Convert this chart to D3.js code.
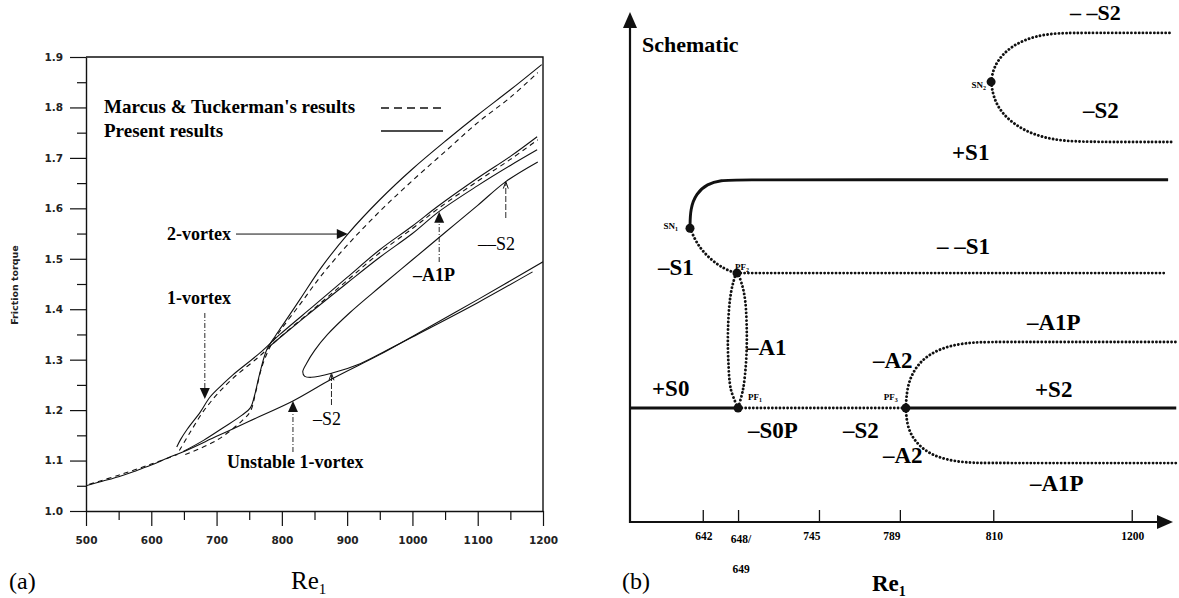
<!DOCTYPE html>
<html>
<head>
<meta charset="utf-8">
<script src="https://cdn.jsdelivr.net/npm/d3@7"></script>
<style>
  html, body { margin: 0; padding: 0; background: #fff; }
  svg { display: block; }
</style>
</head>
<body>
<svg id="fig" width="1179" height="598"></svg>
<script>
// ---------------- Panel (a): friction torque against Re1 ----------------
const reTicks = [500, 600, 700, 800, 900, 1000, 1100, 1200];
const reMinorTicks = [550, 650, 750, 850, 950, 1050, 1150];
const torqueTicks = [1.0, 1.1, 1.2, 1.3, 1.4, 1.5, 1.6, 1.7, 1.8, 1.9];
const torqueMinorTicks = [1.05, 1.15, 1.25, 1.35, 1.45, 1.55, 1.65, 1.75, 1.85];

// present results (solid), [Re1, torque]
const baseBranch = [[500,1.05],[525,1.059],[550,1.068],[575,1.079],[600,1.091],[625,1.105],[650,1.118],
  [700,1.148],[750,1.178],[817,1.218],[877,1.262],[950,1.31],[1000,1.346],[1100,1.419],[1200,1.494]];
const twoVortex = [[649,1.118],[680,1.14],[710,1.165],[739,1.19],[752,1.205],[758,1.228],[766,1.272],
  [777,1.32],[790,1.347],[800,1.366],[828,1.42],[860,1.482],[901,1.549],[950,1.617],[1000,1.678],
  [1053,1.736],[1100,1.785],[1150,1.835],[1198,1.885]];
const oneVortex = [[639,1.127],[645,1.142],[655,1.162],[675,1.196],[690,1.226],[710,1.252],[725,1.27],
  [766,1.313],[797,1.35],[850,1.408],[900,1.463],[950,1.518],[1000,1.565],[1040,1.605],[1100,1.66],
  [1150,1.703],[1191,1.742]];
const a1pBranch = [[780,1.325],[800,1.347],[850,1.4],[900,1.452],[950,1.503],[1000,1.55],[1040,1.593],
  [1100,1.645],[1150,1.685],[1191,1.716]];
const s2Loop = [[1192,1.692],[1143,1.653],[1100,1.606],[1050,1.552],[1000,1.498],[950,1.444],[904,1.393],
  [870,1.35],[850,1.318],[838,1.293],[832,1.276],[835,1.267],[845,1.265],[876,1.273],[920,1.292],
  [960,1.318],[1000,1.345],[1100,1.413],[1184,1.474]];

// Marcus & Tuckerman (dashed), [Re1, torque]
const mtBase = [[505,1.053],[550,1.071],[600,1.093],[640,1.112]];
const mtOneVortex = [[643,1.12],[660,1.157],[680,1.198],[700,1.23],[725,1.263],[766,1.307],[797,1.344],
  [850,1.402],[900,1.457],[950,1.512],[1000,1.56],[1040,1.6],[1100,1.654],[1150,1.697],[1192,1.736]];
const mtTwoVortex = [[652,1.112],[700,1.14],[740,1.18],[752,1.198],[760,1.236],[770,1.288],[785,1.333],
  [800,1.362],[828,1.41],[860,1.466],[901,1.528],[950,1.594],[1000,1.655],[1053,1.716],[1100,1.77],
  [1150,1.82],[1192,1.869]];

// annotation arrows: label, arrow tip [Re1, torque]
const notes = [
  { text: "2-vortex", tip: [901, 1.549], bold: true, dir: "right" },
  { text: "1-vortex", tip: [682, 1.222], bold: true, dir: "down" },
  { text: "Unstable 1-vortex", tip: [817, 1.218], bold: true, dir: "up" },
  { text: "\u2013S2", tip: [876, 1.273], bold: false, dir: "up" },
  { text: "\u2013A1P", tip: [1041, 1.593], bold: true, dir: "up" },
  { text: "\u2013\u2013S2", tip: [1143, 1.653], bold: false, dir: "up" }
];

// ---------------- Panel (b): schematic bifurcation diagram ----------------
// schematic units, 0-100 along each axis
const schemTickPos = [13.4, 19.9, 34.8, 49.7, 66.9, 92.4];
const schemTickLabels = [["642"], ["648/", "649"], ["745"], ["789"], ["810"], ["1200"]];

const stableS0 = [[0,22.35],[19.9,22.35]];
const unstableS0P = [[19.9,22.35],[50.8,22.35]];
const stableS2 = [[50.8,22.35],[100.6,22.35]];
const unstableA2Up = [[50.8,22.35],[51.0,26.5],[52.4,30.2],[55.0,32.9],[58.5,34.5],[62.5,35.2],[66,35.3],[80,35.3],[100.6,35.3]];
const unstableA2Down = [[50.8,22.35],[51.0,18.8],[52.4,15.8],[55.0,13.4],[58.5,12.1],[62.5,11.6],[66,11.55],[80,11.55],[100.6,11.55]];
const stableS1 = [[11.05,57.6],[11.1,61.5],[12.2,64.4],[14.2,66.3],[16.8,67.0],[19.5,67.1],[40,67.1],[99.1,67.1]];
const unstableS1 = [[11.05,57.6],[12.2,54.8],[14.0,52.3],[16.3,50.3],[18.3,49.2],[19.7,48.8]];
const unstableS1b = [[19.7,48.8],[98.9,48.8]];
const unstableA1 = [[19.9,22.35],[18.6,25.9],[18.1,31.8],[18.05,37.6],[18.4,43.5],[19.0,46.9],[19.7,48.8],
  [20.6,46.6],[21.2,43.5],[21.5,37.6],[21.4,31.8],[20.8,25.9],[19.9,22.35]];
const unstableS2Up = [[66.5,86.3],[66.9,89.0],[68.6,91.8],[71.4,94.0],[74.8,95.3],[78.5,95.9],[85,95.9],[99.4,95.9]];
const unstableS2Down = [[66.5,86.3],[66.9,83.3],[68.3,80.4],[70.8,77.9],[74.2,76.0],[77.9,75.0],[81.5,74.6],[88,74.5],[100,74.5]];
const bifPoints = [
  { p: [11.05,57.6], name: "SN", sub: "1" },
  { p: [19.7,48.8], name: "PF", sub: "2" },
  { p: [19.9,22.35], name: "PF", sub: "1" },
  { p: [50.8,22.35], name: "PF", sub: "3" },
  { p: [66.5,86.3], name: "SN", sub: "2" }
];
const branchLabels = ["Schematic", "\u2013 \u2013S2", "\u2013S2", "+S1", "\u2013 \u2013S1", "\u2013S1", "\u2013A1",
  "+S0", "\u2013S0P", "\u2013S2", "\u2013A2", "\u2013A2", "\u2013A1P", "+S2", "\u2013A1P"];

// ---------------- drawing ----------------
const svg = d3.select("#fig");
const serif = '"Liberation Serif","Times New Roman",serif';
const sans = '"DejaVu Sans",Verdana,sans-serif';
const ink = "#111";

// ---- panel (a)
const xA = d3.scaleLinear().domain([500, 1200]).range([86, 543]);
const yA = d3.scaleLinear().domain([1.0, 1.9]).range([511, 57]);
const gA = svg.append("g");

function styleAxis(g) {
  g.selectAll("path.domain").attr("stroke", ink).attr("stroke-width", 1.4);
  g.selectAll(".tick line").attr("stroke", ink).attr("stroke-width", 1.2);
  g.selectAll(".tick text").attr("fill", "#222").attr("font-family", sans)
    .attr("font-weight", "bold").attr("font-size", "10.5px");
}

const axLeft = gA.append("g").attr("transform", `translate(${xA(500)},0)`)
  .call(d3.axisLeft(yA).tickValues(torqueTicks).tickFormat(d3.format(".1f"))
    .tickSize(16).tickSizeOuter(0).tickPadding(7));
styleAxis(axLeft);
const axLeftMinor = gA.append("g").attr("transform", `translate(${xA(500)},0)`)
  .call(d3.axisLeft(yA).tickValues(torqueMinorTicks).tickFormat("").tickSize(9).tickSizeOuter(0));
styleAxis(axLeftMinor);
axLeftMinor.select("path.domain").remove();

const axBottom = gA.append("g").attr("transform", `translate(0,${yA(1.0)})`)
  .call(d3.axisBottom(xA).tickValues(reTicks).tickFormat(d3.format("d"))
    .tickSize(15).tickSizeOuter(0).tickPadding(11));
styleAxis(axBottom);
const axBottomMinor = gA.append("g").attr("transform", `translate(0,${yA(1.0)})`)
  .call(d3.axisBottom(xA).tickValues(reMinorTicks).tickFormat("").tickSize(9).tickSizeOuter(0));
styleAxis(axBottomMinor);
axBottomMinor.select("path.domain").remove();

// frame: top and right edges
gA.append("path")
  .attr("d", `M${xA(500)},${yA(1.9)}H${xA(1200)}V${yA(1.0)}`)
  .attr("fill", "none").attr("stroke", ink).attr("stroke-width", 1.4);

gA.append("text").attr("transform", "translate(18,285) rotate(-90)")
  .attr("text-anchor", "middle").attr("font-family", sans).attr("font-weight", "bold")
  .attr("font-size", "9.5px").attr("fill", "#222").text("Friction torque");

svg.append("clipPath").attr("id", "clipA").append("rect")
  .attr("x", xA(500)).attr("y", yA(1.9)).attr("width", xA(1200) - xA(500)).attr("height", yA(1.0) - yA(1.9));

const lineA = d3.line().x(d => xA(d[0])).y(d => yA(d[1])).curve(d3.curveCatmullRom.alpha(0.5));
const curves = gA.append("g").attr("clip-path", "url(#clipA)");
[baseBranch, twoVortex, oneVortex, a1pBranch, s2Loop].forEach(c =>
  curves.append("path").attr("d", lineA(c)).attr("fill", "none").attr("stroke", ink).attr("stroke-width", 1.1));
[mtBase, mtOneVortex, mtTwoVortex].forEach(c =>
  curves.append("path").attr("d", lineA(c)).attr("fill", "none").attr("stroke", ink)
    .attr("stroke-width", 1.1).attr("stroke-dasharray", "5,4"));

// legend
const legend = gA.append("g").attr("font-family", serif).attr("font-weight", "bold").attr("font-size", "19px");
legend.append("text").attr("x", 104).attr("y", 113).text("Marcus & Tuckerman's results");
legend.append("text").attr("x", 104).attr("y", 137).text("Present results");
legend.append("line").attr("x1", 381).attr("x2", 445).attr("y1", 108).attr("y2", 108)
  .attr("stroke", ink).attr("stroke-width", 1.4).attr("stroke-dasharray", "8,5");
legend.append("line").attr("x1", 381).attr("x2", 443).attr("y1", 131).attr("y2", 131)
  .attr("stroke", ink).attr("stroke-width", 1.4);

// annotations
const noteLayout = {
  "2-vortex": { tx: 167, ty: 240, tail: 236 },
  "1-vortex": { tx: 167, ty: 304, tail: 313 },
  "Unstable 1-vortex": { tx: 227, ty: 468, tail: 452 },
  "\u2013S2": { tx: 313, ty: 425, tail: 405 },
  "\u2013A1P": { tx: 413, ty: 281, tail: 262 },
  "\u2013\u2013S2": { tx: 478, ty: 250, tail: 218 }
};
const gN = gA.append("g");
notes.forEach(n => {
  const L = noteLayout[n.text];
  gN.append("text").attr("x", L.tx).attr("y", L.ty).attr("font-family", serif)
    .attr("font-weight", n.bold ? "bold" : "normal").attr("font-size", "18px").text(n.text);
  const tx = xA(n.tip[0]), ty = yA(n.tip[1]);
  if (n.dir === "right") {
    gN.append("line").attr("x1", L.tail).attr("x2", tx - 9).attr("y1", ty).attr("y2", ty)
      .attr("stroke", ink).attr("stroke-width", 1);
    gN.append("path").attr("d", `M${tx},${ty}L${tx - 11},${ty - 5}L${tx - 11},${ty + 5}Z`).attr("fill", ink);
  } else if (n.bold) {
    const s = n.dir === "down" ? -1 : 1;
    gN.append("line").attr("x1", tx).attr("x2", tx).attr("y1", L.tail).attr("y2", ty + s * 9)
      .attr("stroke", ink).attr("stroke-width", 0.9).attr("stroke-dasharray", "5,2,1,2");
    gN.append("path").attr("d", `M${tx},${ty}L${tx - 5},${ty + s * 11}L${tx + 5},${ty + s * 11}Z`).attr("fill", ink);
  } else {
    gN.append("line").attr("x1", tx).attr("x2", tx).attr("y1", L.tail).attr("y2", ty + 1)
      .attr("stroke", ink).attr("stroke-width", 0.9).attr("stroke-dasharray", "6,2");
    gN.append("path").attr("d", `M${tx - 2.5},${ty + 7}L${tx},${ty}L${tx + 2.5},${ty + 7}`)
      .attr("fill", "none").attr("stroke", ink).attr("stroke-width", 1);
  }
});

svg.append("text").attr("x", 9).attr("y", 589).attr("font-family", serif).attr("font-size", "24px").text("(a)");
const reA = svg.append("text").attr("x", 291).attr("y", 589).attr("font-family", serif).attr("font-size", "25px");
reA.append("tspan").text("Re");
reA.append("tspan").attr("font-size", "15px").attr("dy", 5).text("1");

// ---- panel (b)
const xB = d3.scaleLinear().domain([0, 100]).range([630, 1173]);
const yB = d3.scaleLinear().domain([0, 100]).range([522, 12]);
const gB = svg.append("g");

// axes with arrow heads
gB.append("line").attr("x1", xB(0)).attr("x2", xB(0)).attr("y1", yB(0) + 1).attr("y2", yB(100) + 12)
  .attr("stroke", ink).attr("stroke-width", 2.2);
gB.append("path").attr("d", `M${xB(0)},${yB(100)}L${xB(0) - 7},${yB(100) + 16}L${xB(0) + 7},${yB(100) + 16}Z`).attr("fill", ink);
const axB = gB.append("g").attr("transform", `translate(0,${yB(0)})`)
  .call(d3.axisBottom(xB).tickValues(schemTickPos).tickFormat("").tickSize(-12).tickSizeOuter(0));
axB.select("path.domain").remove();
axB.selectAll(".tick line").attr("stroke", ink).attr("stroke-width", 1.3);
gB.append("line").attr("x1", xB(0) - 1).attr("x2", xB(100) - 12).attr("y1", yB(0)).attr("y2", yB(0))
  .attr("stroke", ink).attr("stroke-width", 2.2);
gB.append("path").attr("d", `M${xB(100)},${yB(0)}L${xB(100) - 16},${yB(0) - 7}L${xB(100) - 16},${yB(0) + 7}Z`).attr("fill", ink);

const tickShift = [1, 3, -7, -8, 1, 1];
schemTickPos.forEach((p, i) => {
  schemTickLabels[i].forEach((t, j) => {
    gB.append("text").attr("x", xB(p) + tickShift[i]).attr("y", 540 + j * 30 + (i === 1 ? 3 : 0))
      .attr("text-anchor", "middle").attr("font-family", serif).attr("font-weight", "bold")
      .attr("font-size", "11.5px").text(t);
  });
});

// smooth branches; the B-spline keeps the flat parts flat
const lineB = d3.line().x(d => xB(d[0])).y(d => yB(d[1])).curve(d3.curveBasis);
const loopB = d3.line().x(d => xB(d[0])).y(d => yB(d[1])).curve(d3.curveCatmullRom.alpha(0.5));
[stableS0, stableS2, stableS1].forEach(c =>
  gB.append("path").attr("d", lineB(c)).attr("fill", "none").attr("stroke", ink).attr("stroke-width", 2.9));
const dotted = p => p.attr("fill", "none").attr("stroke", ink).attr("stroke-width", 2.9)
  .attr("stroke-linecap", "round").attr("stroke-dasharray", "0.01,3.8");
[unstableS0P, unstableA2Up, unstableA2Down, unstableS1, unstableS1b, unstableS2Up, unstableS2Down].forEach(c =>
  gB.append("path").attr("d", lineB(c)).call(dotted));
gB.append("path").attr("d", loopB(unstableA1)).call(dotted);

// bifurcation points
const dotLabelPos = [
  { dx: -12, dy: 1, anchor: "end" },
  { dx: -2, dy: -3, anchor: "start" },
  { dx: 10, dy: -8, anchor: "start" },
  { dx: -8, dy: -8, anchor: "end" },
  { dx: -5, dy: 6, anchor: "end" }
];
bifPoints.forEach((b, i) => {
  const cx = xB(b.p[0]), cy = yB(b.p[1]);
  gB.append("circle").attr("cx", cx).attr("cy", cy).attr("r", 4.5).attr("fill", ink);
  const L = dotLabelPos[i];
  const t = gB.append("text").attr("x", cx + L.dx).attr("y", cy + L.dy).attr("text-anchor", L.anchor)
    .attr("font-family", serif).attr("font-weight", "bold").attr("font-size", "9px");
  t.append("tspan").text(b.name);
  t.append("tspan").attr("font-size", "6px").attr("dy", 2).text(b.sub);
});

// branch names
const branchLabelPos = [[642,52,22],[1070,20,22],[1083,118,23],[952,160,23],[937,254,23],[658,275,23],
  [747,355,23],[652,396,23],[748,438,23],[843,438,23],[873,368,23],[883,463,23],[1027,330,23],
  [1035,397,23],[1030,491,23]];
branchLabels.forEach((t, i) => {
  const [x, y, fs] = branchLabelPos[i];
  gB.append("text").attr("x", x).attr("y", y).attr("font-family", serif).attr("font-weight", "bold")
    .attr("font-size", fs + "px").text(t);
});

svg.append("text").attr("x", 622).attr("y", 589).attr("font-family", serif).attr("font-size", "24px").text("(b)");
const reB = svg.append("text").attr("x", 872).attr("y", 591).attr("font-family", serif)
  .attr("font-weight", "bold").attr("font-size", "23px");
reB.append("tspan").text("Re");
reB.append("tspan").attr("font-size", "14px").attr("dy", 5).text("1");
</script>
</body>
</html>
